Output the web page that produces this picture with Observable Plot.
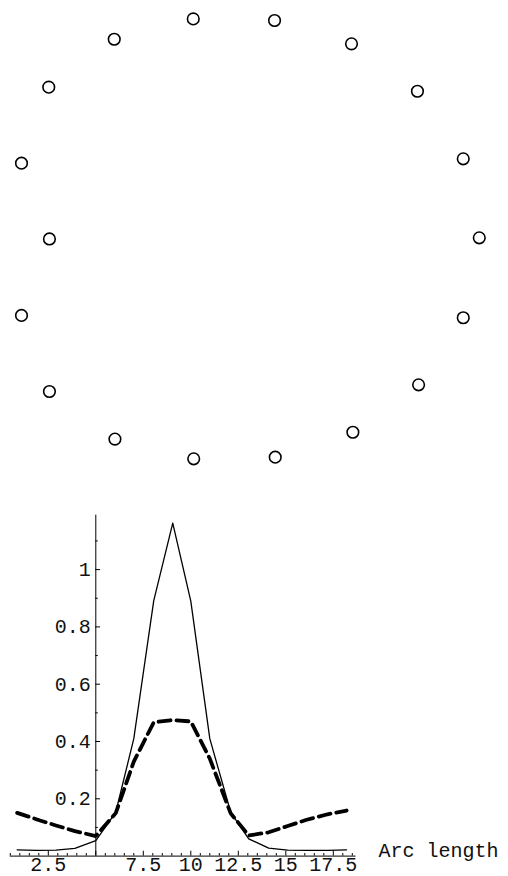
<!DOCTYPE html>
<html>
<head>
<meta charset="utf-8">
<script src="https://cdn.jsdelivr.net/npm/d3@7"></script>
<script src="https://cdn.jsdelivr.net/npm/@observablehq/plot@0.6"></script>
<style>
  html, body { margin: 0; padding: 0; background: #fff; }
  #top, #bottom { display: block; line-height: 0; }
  svg { display: block; }
</style>
</head>
<body>
<div id="top"></div>
<div id="bottom"></div>
<script>
// ---- Top panel: sample points on the contour ----
const ringX = [-0.250, 0.105, 0.441, 0.729, 0.929, 0.999, 0.929, 0.734, 0.447, 0.108, -0.248, -0.592, -0.878, -1.000, -0.878, -1.000, -0.881, -0.595];
const ringY = [0.959, 0.952, 0.850, 0.643, 0.348, 0.003, -0.346, -0.639, -0.846, -0.955, -0.962, -0.876, -0.668, -0.336, -0.002, 0.329, 0.661, 0.870];

// ---- Bottom panel: profiles along arc length ----
const arcLength = [0.86, 1.9, 2.9, 3.9, 5.0, 6.05, 7.0, 8.05, 9.05, 10.0, 11.0, 12.1, 13.05, 14.1, 15.1, 16.1, 17.2, 18.2];
const solidValues = [0.022, 0.020, 0.021, 0.027, 0.054, 0.153, 0.41, 0.892, 1.162, 0.89, 0.41, 0.153, 0.06, 0.028, 0.021, 0.020, 0.020, 0.022];
const dashedValues = [0.151, 0.128, 0.107, 0.087, 0.07, 0.15, 0.33, 0.467, 0.475, 0.47, 0.34, 0.149, 0.072, 0.083, 0.105, 0.127, 0.146, 0.159];

const xTickValues = [2.5, 7.5, 10, 12.5, 15, 17.5];
const xTickLabels = ["2.5", "7.5", "10", "12.5", "15", "17.5"];
const yTickValues = [0.2, 0.4, 0.6, 0.8, 1];
const yTickLabels = ["0.2", "0.4", "0.6", "0.8", "1"];
const xAxisLabel = "Arc length";

const ring = ringX.map((x, i) => ({x, y: ringY[i]}));
const solid = arcLength.map((x, i) => ({x, y: solidValues[i]}));
const dashed = arcLength.map((x, i) => ({x, y: dashedValues[i]}));

const FONT = "'Liberation Mono', 'DejaVu Sans Mono', monospace";

const topPlot = Plot.plot({
  width: 508,
  height: 478,
  margin: 0,
  x: {domain: [-1.0917, 1.1266], axis: null},
  y: {domain: [-1.048, 1.0393], axis: null},
  marks: [
    Plot.dot(ring, {x: "x", y: "y", r: 5.8, fill: "white", stroke: "black", strokeWidth: 1.6})
  ]
});
document.getElementById("top").appendChild(topPlot);

const minorX = d3.range(0.5, 18.51, 0.5);
const minorY = d3.range(0.1, 1.151, 0.1);

const bottomPlot = Plot.plot({
  width: 508,
  height: 398,
  marginLeft: 0.3,
  marginRight: 146.7,
  marginTop: 33.8,
  marginBottom: 20.4,
  x: {domain: [0, 19], axis: null},
  y: {domain: [0, 1.2], axis: null},
  style: {fontFamily: FONT, fontSize: "20px", color: "black", background: "white"},
  marks: [
    // axes
    Plot.ruleY([0], {x1: 0.5, x2: 18.7, stroke: "black", strokeWidth: 1}),
    Plot.ruleX([5], {y1: 0, y2: 1.19, stroke: "black", strokeWidth: 1}),
    // minor/major ticks on x axis (upward)
    Plot.ruleX(minorX, {x: d => d, y1: 0, y2: d => (d % 2.5 === 0 ? 0.017 : 0.009), stroke: "black", strokeWidth: 1}),
    // ticks on y axis (rightward)
    Plot.ruleY(minorY, {y: d => d, x1: 5, x2: d => (Math.abs(d * 5 - Math.round(d * 5)) < 1e-6 ? 5.25 : 5.13), stroke: "black", strokeWidth: 1}),
    // tick labels
    Plot.text(xTickValues, {x: d => d, y: 0, text: (d, i) => xTickLabels[i], dy: 8, fill: "#111", fontSize: 20}),
    Plot.text(yTickValues, {x: 5, y: d => d, text: (d, i) => yTickLabels[i], textAnchor: "end", dx: -5, fill: "#111", fontSize: 20}),
    Plot.text([xAxisLabel], {x: 19.88, y: 0, text: d => d, textAnchor: "start", dy: -6, fill: "#111", fontSize: 20}),
    // data
    Plot.line(solid, {x: "x", y: "y", stroke: "black", strokeWidth: 1.3}),
    Plot.line(dashed, {x: "x", y: "y", stroke: "black", strokeWidth: 3.8, strokeDasharray: "12,6"})
  ]
});
document.getElementById("bottom").appendChild(bottomPlot);
</script>
</body>
</html>
